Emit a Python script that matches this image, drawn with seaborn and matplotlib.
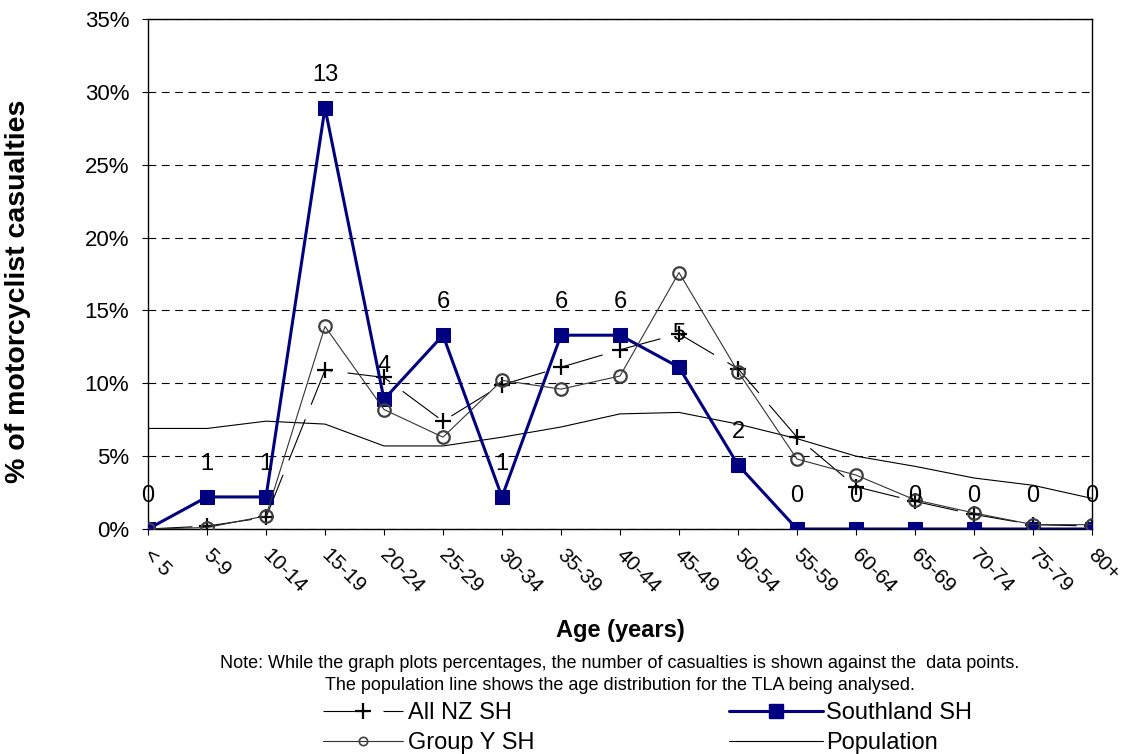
import seaborn as sns
import pandas as pd
import matplotlib.pyplot as plt
import matplotlib.transforms as mtransforms
from matplotlib.ticker import PercentFormatter
from matplotlib.lines import Line2D

ages = ["< 5", "5-9", "10-14", "15-19", "20-24", "25-29", "30-34", "35-39", "40-44",
        "45-49", "50-54", "55-59", "60-64", "65-69", "70-74", "75-79", "80+"]
southland = [0, 2.2, 2.2, 28.9, 8.9, 13.3, 2.2, 13.3, 13.3, 11.1, 4.4, 0, 0, 0, 0, 0, 0]
southland_counts = [0, 1, 1, 13, 4, 6, 1, 6, 6, 5, 2, 0, 0, 0, 0, 0, 0]
all_nz = [0, 0.2, 0.8, 10.9, 10.4, 7.4, 9.9, 11.1, 12.3, 13.4, 11.0, 6.3, 2.9, 1.9, 1.0, 0.3, 0.2]
group_y = [0, 0.1, 0.9, 13.9, 8.2, 6.3, 10.2, 9.6, 10.5, 17.6, 10.8, 4.8, 3.7, 2.0, 1.1, 0.3, 0.3]
population = [6.9, 6.9, 7.4, 7.2, 5.7, 5.7, 6.3, 7.0, 7.9, 8.0, 7.2, 6.2, 5.0, 4.3, 3.5, 3.0, 2.1]

df = pd.DataFrame({"pos": range(len(ages)), "age": ages, "southland": southland,
                   "all_nz": all_nz, "group_y": group_y, "population": population})

sns.set_style("white")
plt.rcParams['font.family'] = ['Liberation Sans', 'DejaVu Sans']
plt.rcParams['text.color'] = 'black'
plt.rcParams['axes.labelcolor'] = 'black'
plt.rcParams['xtick.color'] = 'black'
plt.rcParams['ytick.color'] = 'black'

fig = plt.figure(figsize=(11.24, 7.54), dpi=100)
ax = fig.add_axes([148/1124, 1-529/754, (1092-148)/1124, (529-19)/754])

sns.lineplot(data=df, x="pos", y="population", ax=ax, color="black", lw=0.8, zorder=2)
sns.lineplot(data=df, x="pos", y="all_nz", ax=ax, color="black", lw=0.8,
             marker="+", markersize=11, mew=1.6, mec="black", zorder=3)
ax.get_lines()[-1].set_dashes((40, 14))
sns.lineplot(data=df, x="pos", y="southland", ax=ax, color="#000080", lw=2.2,
             marker="s", markersize=9.5, mec="#000080", zorder=4)
sns.lineplot(data=df, x="pos", y="group_y", ax=ax, color="#333333", lw=0.8,
             marker="o", markersize=9, mfc="none", mec="#404040", mew=1.6, zorder=5)

# casualty counts above the Southland points
for i, c in enumerate(southland_counts):
    ax.annotate(str(c), (i, southland[i]), xytext=(0, 24), textcoords="offset points",
                ha="center", va="center", fontsize=17, zorder=6)

ax.set_xlim(0, len(ages) - 1)
ax.set_ylim(0, 35)
ax.set_yticks(range(0, 36, 5))
ax.yaxis.set_major_formatter(PercentFormatter(decimals=0))
ax.set_xticks(range(len(ages)))
ax.set_xticklabels(ages, rotation=-45, ha="left", va="baseline", rotation_mode="anchor", fontsize=15)
ax.tick_params(axis="y", labelsize=16, direction="out", length=4.5, width=0.8, left=True, pad=9)
ax.tick_params(axis="x", direction="out", length=4.5, width=0.8, bottom=True, pad=15)
# nudge the slanted age labels a little to the left
shift = mtransforms.ScaledTranslation(-0.05, 0, fig.dpi_scale_trans)
for lab in ax.get_xticklabels():
    lab.set_transform(lab.get_transform() + shift)

ax.yaxis.grid(True, color="black", linestyle=(0, (7, 5)), lw=0.8)
ax.xaxis.grid(False)
for s in ax.spines.values():
    s.set_color("black")
    s.set_linewidth(1.0)

ax.set_xlabel("")
ax.set_ylabel("")
fig.text(18/1124, 1-291/754, "% of motorcyclist casualties", rotation=90, ha="center", va="center",
         fontsize=20.5, fontweight="bold")

fig.text(620/1124, 1-631/754, "Age (years)", ha="center", va="center", fontsize=17, fontweight="bold")
fig.text(620/1124, 1-663/754,
         "Note: While the graph plots percentages, the number of casualties is shown against the  data points.",
         ha="center", va="center", fontsize=13)
fig.text(620/1124, 1-685/754,
         "The population line shows the age distribution for the TLA being analysed.",
         ha="center", va="center", fontsize=13)

h_all = Line2D([], [], color="black", lw=0.8, marker="+", markersize=11, mew=1.6, dashes=(40, 14))
h_grp = Line2D([], [], color="#333333", lw=0.8, marker="o", markersize=6, mfc="none", mec="#404040", mew=1.2)
h_sth = Line2D([], [], color="#000080", lw=2.2, marker="s", markersize=9.5)
h_pop = Line2D([], [], color="black", lw=0.8)

fig.legend([h_all, h_grp], ["All NZ SH", "Group Y SH"], loc="upper left",
           bbox_to_anchor=(323/1124, 1-702/754), frameon=False, fontsize=17,
           handlelength=3.4, handletextpad=0.2, labelspacing=0.33, borderpad=0, borderaxespad=0)
fig.legend([h_sth, h_pop], ["Southland SH", "Population"], loc="upper left",
           bbox_to_anchor=(729/1124, 1-702/754), frameon=False, fontsize=17,
           handlelength=4.0, handletextpad=0.1, labelspacing=0.33, borderpad=0, borderaxespad=0)

fig.savefig("out.png", dpi=100)
